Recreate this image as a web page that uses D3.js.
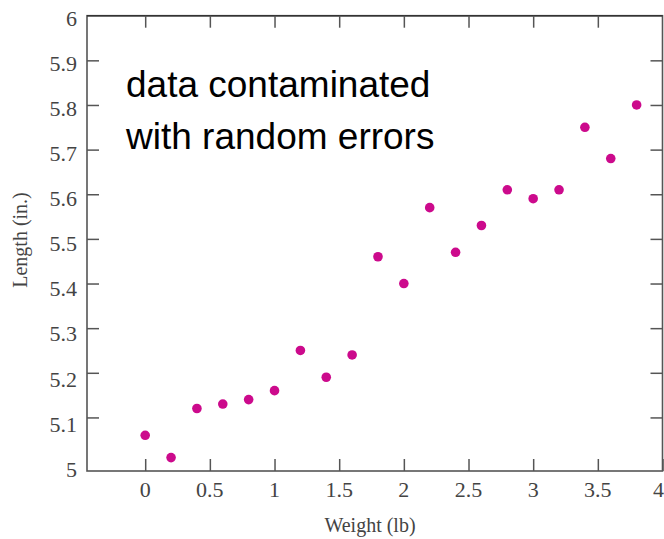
<!DOCTYPE html>
<html>
<head>
<meta charset="utf-8">
<script src="https://cdn.jsdelivr.net/npm/d3@7"></script>
<style>
  html, body { margin: 0; padding: 0; background: #fff; }
  svg { display: block; }
</style>
</head>
<body>
<svg id="chart" width="664" height="539"></svg>
<script>
// ---- data ----
const weights = [0, 0.2, 0.4, 0.6, 0.8, 1.0, 1.2, 1.4, 1.6, 1.8, 2.0, 2.2, 2.4, 2.6, 2.8, 3.0, 3.2, 3.4, 3.6, 3.8];
const lengths = [5.06, 5.01, 5.12, 5.13, 5.14, 5.16, 5.25, 5.19, 5.24, 5.46, 5.40, 5.57, 5.47, 5.53, 5.61, 5.59, 5.61, 5.75, 5.68, 5.80];
const xTicks = [0, 0.5, 1, 1.5, 2, 2.5, 3, 3.5, 4];
const xTickLabels = ["0", "0.5", "1", "1.5", "2", "2.5", "3", "3.5", "4"];
const yTicks = [5, 5.1, 5.2, 5.3, 5.4, 5.5, 5.6, 5.7, 5.8, 5.9, 6];
const yTickLabels = ["5", "5.1", "5.2", "5.3", "5.4", "5.5", "5.6", "5.7", "5.8", "5.9", "6"];
const xTitle = "Weight (lb)";
const yTitle = "Length (in.)";
const annotation = ["data contaminated", "with random errors"];

// ---- layout ----
const svg = d3.select("#chart");
const pL = 87, pR = 662.5, pT = 15.7, pB = 471;
const x = d3.scaleLinear().domain([-0.45, 4]).range([pL, pR]);
const y = d3.scaleLinear().domain([4.98, 6]).range([pB, pT]);
// tick labels in the reference sit on a slightly stretched scale
const yLab = d3.scaleLinear().domain([5, 6]).range([469, 18]);

const axisColor = "#555";
const tickLen = 12;
const serif = "'Liberation Serif', 'Times New Roman', serif";

function styleAxis(g) {
  g.select(".domain").remove();
  g.selectAll(".tick line").attr("stroke", axisColor).attr("stroke-width", 1.5);
}

// frame
svg.append("rect")
  .attr("x", pL).attr("y", pT)
  .attr("width", pR - pL).attr("height", pB - pT)
  .attr("fill", "none").attr("stroke", axisColor).attr("stroke-width", 1.6);
svg.append("line").attr("x1", pL).attr("x2", pR).attr("y1", pT).attr("y2", pT)
  .attr("stroke", "#333").attr("stroke-width", 1.6);

// axes (ticks pointing inward on all four sides)
svg.append("g").attr("transform", `translate(0,${pB})`)
  .call(d3.axisTop(x).tickValues(xTicks).tickSize(tickLen).tickFormat(""))
  .call(styleAxis);
svg.append("g").attr("transform", `translate(0,${pT})`)
  .call(d3.axisBottom(x).tickValues(xTicks.filter(v => v < 4)).tickSize(tickLen).tickFormat(""))
  .call(styleAxis);
svg.append("g").attr("transform", `translate(${pL},0)`)
  .call(d3.axisRight(y).tickValues(yTicks.filter(v => v > 5 && v < 6)).tickSize(tickLen).tickFormat(""))
  .call(styleAxis);
svg.append("g").attr("transform", `translate(${pR},0)`)
  .call(d3.axisLeft(y).tickValues(yTicks.filter(v => v > 5 && v < 6)).tickSize(tickLen).tickFormat(""))
  .call(styleAxis);

// tick labels
const lastX = xTicks[xTicks.length - 1];
svg.append("g").selectAll("text").data(xTicks).join("text")
  .attr("x", d => d === lastX ? Math.min(x(d) + 5, 664) : x(d)).attr("y", 497)
  .attr("text-anchor", d => d === lastX ? "end" : "middle")
  .attr("font-family", serif).attr("font-size", 22).attr("fill", "#444")
  .text((d, i) => xTickLabels[i]);
svg.append("g").selectAll("text").data(yTicks).join("text")
  .attr("x", 77).attr("y", d => yLab(d)).attr("dy", "0.35em")
  .attr("text-anchor", "end")
  .attr("font-family", serif).attr("font-size", 22).attr("fill", "#444")
  .text((d, i) => yTickLabels[i]);

// axis titles
svg.append("text")
  .attr("x", 370).attr("y", 532)
  .attr("text-anchor", "middle")
  .attr("font-family", serif).attr("font-size", 20).attr("fill", "#444")
  .text(xTitle);
svg.append("text")
  .attr("transform", "translate(27,240) rotate(-90)")
  .attr("text-anchor", "middle")
  .attr("font-family", serif).attr("font-size", 20).attr("fill", "#444")
  .text(yTitle);

// points
svg.append("g").selectAll("circle").data(weights).join("circle")
  .attr("cx", d => x(d))
  .attr("cy", (d, i) => y(lengths[i]))
  .attr("r", 4.8)
  .attr("fill", "#cc0a8c");

// annotation
svg.append("g").selectAll("text").data(annotation).join("text")
  .attr("x", 126).attr("y", (d, i) => 97 + i * 52)
  .attr("font-family", "'Liberation Sans', Arial, sans-serif")
  .attr("font-size", 37).attr("fill", "#000")
  .text(d => d);
</script>
</body>
</html>
